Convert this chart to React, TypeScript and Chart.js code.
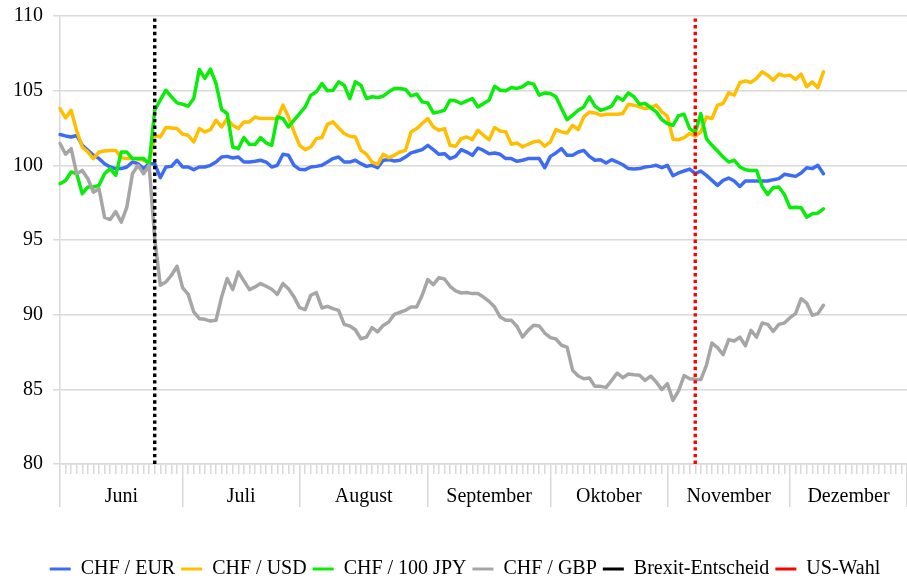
import React, { useEffect, useRef } from 'react';
import { Chart, registerables } from 'chart.js';

Chart.register(...registerables);

// ---- categories: business days June–December 2016 ----
const MONTH_NAMES = ['Juni', 'Juli', 'August', 'September', 'Oktober', 'November', 'Dezember'];
const MONTH_NUMBERS = ['06', '07', '08', '09', '10', '11', '12'];
const JUNE_DAYS = [1, 2, 3, 6, 7, 8, 9, 10, 13, 14, 15, 16, 17, 20, 21, 22, 23, 24, 27, 28, 29, 30];
const JULY_DAYS = [1, 4, 5, 6, 7, 8, 11, 12, 13, 14, 15, 18, 19, 20, 21, 22, 25, 26, 27, 28, 29];
const AUGUST_DAYS = [1, 2, 3, 4, 5, 8, 9, 10, 11, 12, 15, 16, 17, 18, 19, 22, 23, 24, 25, 26, 29, 30, 31];
const SEPTEMBER_DAYS = [1, 2, 5, 6, 7, 8, 9, 12, 13, 14, 15, 16, 19, 20, 21, 22, 23, 26, 27, 28, 29, 30];
const OCTOBER_DAYS = [3, 4, 5, 6, 7, 10, 11, 12, 13, 14, 17, 18, 19, 20, 21, 24, 25, 26, 27, 28, 31];
const NOVEMBER_DAYS = [1, 2, 3, 4, 7, 8, 9, 10, 11, 14, 15, 16, 17, 18, 21, 22, 23, 24, 25, 28, 29, 30];
const DECEMBER_DAYS = [1, 2, 5, 6, 7, 8, 9, 12, 13, 14, 15, 16, 19, 20, 21, 22, 23, 26, 27, 28, 29, 30];
const MONTH_DAYS = [JUNE_DAYS, JULY_DAYS, AUGUST_DAYS, SEPTEMBER_DAYS, OCTOBER_DAYS, NOVEMBER_DAYS, DECEMBER_DAYS];

const CATEGORIES: string[] = MONTH_DAYS.flatMap((days, m) =>
  days.map((d) => `${String(d).padStart(2, '0')}.${MONTH_NUMBERS[m]}.`)
);

// ---- events ----
const BREXIT_DATE = '24.06.';
const US_ELECTION_DATE = '08.11.';

// ---- series (index, start = 100) ----
const CHF_EUR = [
  102.06, 101.97, 101.9, 102.0, 101.34, 101.0, 100.67, 100.45, 100.11, 99.89,
  99.78, 99.78, 99.89, 100.22, 100.11, 99.78, 100.11, 100.11, 99.17, 99.89,
  99.93, 100.34, 99.89, 99.89, 99.71, 99.89, 99.89, 100.0, 100.22, 100.56,
  100.6, 100.49, 100.56, 100.22, 100.22, 100.27, 100.34, 100.22, 99.89, 100.0,
  100.74, 100.67, 100.0, 99.73, 99.71, 99.89, 99.93, 100.0, 100.22, 100.45,
  100.56, 100.22, 100.22, 100.34, 100.11, 99.93, 100.0, 99.84, 100.34, 100.38,
  100.29, 100.34, 100.56, 100.83, 100.94, 101.05, 101.34, 101.05, 100.74, 100.78,
  100.45, 100.6, 101.05, 100.89, 100.67, 101.16, 101.0, 100.78, 100.83, 100.74,
  100.45, 100.45, 100.27, 100.34, 100.45, 100.45, 100.45, 99.84, 100.6, 100.83,
  101.12, 100.67, 100.67, 100.89, 101.0, 100.6, 100.34, 100.38, 100.16, 100.38,
  100.22, 100.04, 99.78, 99.75, 99.78, 99.89, 99.93, 100.0, 99.84, 100.0,
  99.3, 99.49, 99.62, 99.75, 99.44, 99.62, 99.33, 98.99, 98.66, 98.99,
  99.15, 98.95, 98.59, 98.95, 98.95, 98.95, 98.95, 98.95, 99.04, 99.11,
  99.4, 99.33, 99.26, 99.49, 99.84, 99.78, 100.0, 99.44,
];

const CHF_USD = [
  103.8, 103.18, 103.69, 102.3, 101.23, 100.89, 100.45, 100.89, 100.96, 101.0,
  101.0, 100.51, 100.45, 100.45, 100.42, 100.34, 100.22, 102.01, 101.9, 102.53,
  102.5, 102.46, 102.08, 102.01, 101.57, 102.46, 102.24, 102.39, 103.02, 102.57,
  103.13, 102.68, 102.46, 102.91, 102.91, 103.24, 103.13, 103.13, 103.13, 103.1,
  104.03, 103.24, 102.24, 101.34, 101.05, 101.23, 101.79, 101.86, 102.75, 102.91,
  102.5, 102.13, 101.95, 101.9, 101.0, 100.74, 100.22, 100.07, 100.74, 100.51,
  100.67, 100.89, 101.0, 102.24, 102.46, 102.8, 103.13, 102.57, 102.35, 102.46,
  101.34, 101.28, 101.79, 101.9, 101.72, 102.35, 102.01, 101.72, 102.53, 102.3,
  102.24, 101.41, 101.5, 101.23, 101.41, 101.57, 101.63, 101.28, 101.57, 102.39,
  102.24, 102.17, 102.68, 102.39, 103.24, 103.56, 103.51, 103.36, 103.42, 103.42,
  103.42, 103.47, 104.09, 104.03, 103.91, 103.8, 103.87, 104.03, 103.58, 103.29,
  101.75, 101.72, 101.86, 102.13, 101.95, 102.24, 103.24, 103.13, 104.03, 104.14,
  104.85, 104.7, 105.53, 105.66, 105.55, 105.82, 106.26, 106.04, 105.7, 106.11,
  105.99, 106.04, 105.75, 106.11, 105.26, 105.59, 105.19, 106.26,
];

const CHF_100JPY = [
  98.77, 98.99, 99.55, 99.44, 98.1, 98.55, 98.55, 98.66, 99.44, 99.78,
  99.33, 100.89, 100.89, 100.45, 100.45, 100.45, 100.11, 103.69, 104.36, 105.03,
  104.59, 104.18, 104.09, 103.96, 104.47, 106.42, 105.82, 106.44, 105.48, 103.74,
  103.47, 101.23, 101.12, 101.86, 101.41, 101.39, 101.86, 101.5, 101.34, 103.24,
  103.13, 102.57, 103.02, 103.47, 103.91, 104.7, 104.92, 105.48, 104.99, 105.03,
  105.59, 105.37, 104.47, 105.59, 105.37, 104.47, 104.59, 104.54, 104.63, 104.92,
  105.15, 105.15, 105.08, 104.65, 104.77, 104.25, 104.18, 103.51, 103.58, 103.69,
  104.36, 104.32, 104.14, 104.32, 104.47, 103.91, 104.14, 104.36, 105.3, 105.03,
  104.99, 105.21, 105.15, 105.26, 105.53, 105.44, 104.7, 104.85, 104.81, 104.59,
  103.8, 103.06, 103.36, 103.69, 103.91, 104.59, 103.96, 103.69, 103.8, 103.96,
  104.59, 104.36, 104.85, 104.59, 104.09, 104.14, 103.87, 103.58, 103.06, 102.8,
  102.68, 103.33, 103.42, 102.46, 102.2, 103.47, 101.79, 101.34, 100.96, 100.56,
  100.22, 100.34, 99.89, 99.71, 99.66, 99.66, 98.59, 98.05, 98.5, 98.55,
  98.05, 97.16, 97.2, 97.16, 96.53, 96.76, 96.8, 97.09,
];

const CHF_GBP = [
  101.46, 100.74, 101.12, 99.44, 99.66, 99.1, 98.2, 98.43, 96.52, 96.37,
  96.9, 96.19, 97.2, 99.44, 100.0, 99.44, 100.0, 95.1, 91.97, 92.19,
  92.64, 93.24, 91.81, 91.36, 90.18, 89.73, 89.69, 89.57, 89.62, 91.19,
  92.42, 91.68, 92.86, 92.26, 91.68, 91.86, 92.08, 91.9, 91.7, 91.36,
  92.08, 91.74, 91.19, 90.47, 90.34, 91.3, 91.48, 90.45, 90.56, 90.4,
  90.29, 89.35, 89.24, 88.99, 88.39, 88.5, 89.13, 88.84, 89.28, 89.51,
  90.02, 90.16, 90.29, 90.51, 90.51, 91.3, 92.35, 92.01, 92.48, 92.39,
  91.9, 91.59, 91.45, 91.48, 91.41, 91.41, 91.18, 90.89, 90.51, 89.84,
  89.62, 89.62, 89.22, 88.5, 88.95, 89.29, 89.24, 88.77, 88.46, 88.37,
  87.95, 87.83, 86.27, 85.89, 85.71, 85.76, 85.2, 85.2, 85.13, 85.6,
  86.09, 85.78, 86.03, 85.98, 85.94, 85.6, 85.89, 85.49, 84.98, 85.38,
  84.26, 84.89, 85.92, 85.71, 85.67, 85.65, 86.61, 88.1, 87.79, 87.32,
  88.33, 88.24, 88.5, 87.92, 88.95, 88.5, 89.44, 89.35, 88.88, 89.35,
  89.44, 89.8, 90.07, 91.07, 90.78, 89.96, 90.07, 90.63,
];

// ---- axis ----
const Y_MIN = 80;
const Y_MAX = 110;
const Y_STEP = 5;

const FONT = { family: "'Liberation Serif', 'Times New Roman', serif", size: 20 };
const GRID_COLOR = '#d9d9d9';

export default function App() {
  const canvasRef = useRef<HTMLCanvasElement>(null);

  useEffect(() => {
    const canvas = canvasRef.current;
    if (!canvas) return;

    // month boundaries (category indices) and label positions
    const starts: number[] = [];
    let acc = 0;
    MONTH_DAYS.forEach((days) => {
      starts.push(acc);
      acc += days.length;
    });
    const lastIndex = CATEGORIES.length - 1;
    const boundaries = [...starts, lastIndex];
    const mids = starts.map((s, k) => (s + boundaries[k + 1]) / 2);

    const series = [
      { label: 'CHF / EUR', data: CHF_EUR, color: '#3d6cf3' },
      { label: 'CHF / USD', data: CHF_USD, color: '#ffbf00' },
      { label: 'CHF / 100 JPY', data: CHF_100JPY, color: '#0aec0a' },
      { label: 'CHF / GBP', data: CHF_GBP, color: '#a6a6a6' },
    ];
    const events = [
      { label: 'Brexit-Entscheid', date: BREXIT_DATE, color: '#000000' },
      { label: 'US-Wahl', date: US_ELECTION_DATE, color: '#ff0000' },
    ];

    const chart = new Chart(canvas, {
      type: 'line',
      data: {
        labels: CATEGORIES,
        datasets: [
          ...series.map((s, k) => ({
            label: s.label,
            data: s.data,
            borderColor: s.color,
            backgroundColor: s.color,
            borderWidth: 3.5,
            pointRadius: 0,
            pointHoverRadius: 0,
            tension: 0,
            fill: false,
            borderJoinStyle: 'round' as const,
            borderCapStyle: 'round' as const,
            order: 10 - k,
          })),
          ...events.map((e, k) => ({
            label: e.label,
            data: [
              { x: e.date, y: Y_MIN },
              { x: e.date, y: Y_MAX },
            ],
            borderColor: e.color,
            backgroundColor: e.color,
            borderWidth: 3.4,
            borderDash: [3.4, 3.3],
            borderCapStyle: 'butt' as const,
            pointRadius: 0,
            pointHoverRadius: 0,
            fill: false,
            order: 2 - k,
          })),
        ],
      },
      options: {
        responsive: false,
        animation: false,
        devicePixelRatio: 1,
        events: [],
        layout: { padding: { top: 16, left: 23, right: 0, bottom: -10 } },
        plugins: {
          tooltip: { enabled: false },
          legend: {
            position: 'bottom',
            labels: {
              boxWidth: 21,
              boxHeight: 3,
              padding: 6,
              color: '#000',
              font: FONT,
              generateLabels: (c: any) =>
                c.data.datasets.map((ds: any, i: number) => ({
                  text: ds.label,
                  fillStyle: ds.borderColor,
                  strokeStyle: ds.borderColor,
                  lineWidth: 0,
                  hidden: false,
                  datasetIndex: i,
                  fontColor: '#000',
                })),
            },
          },
        },
        scales: {
          x: {
            type: 'category',
            offset: false,
            weight: 0,
            grid: { drawOnChartArea: false, tickLength: 10, color: GRID_COLOR, lineWidth: 1.5 },
            border: { color: GRID_COLOR, width: 1.5 },
            ticks: { display: false, autoSkip: false },
          },
          months: {
            type: 'linear',
            position: 'bottom',
            min: 0,
            max: lastIndex,
            weight: 1,
            afterBuildTicks: (scale: any) => {
              scale.ticks = [...boundaries, ...mids].sort((a, b) => a - b).map((v) => ({ value: v }));
            },
            afterFit: (scale: any) => {
              scale.height += 66;
              scale.paddingLeft = 0;
              scale.paddingRight = 0;
            },
            grid: {
              drawOnChartArea: false,
              tickLength: 33,
              lineWidth: 1.5,
              color: (ctx: any) =>
                ctx.tick && boundaries.includes(ctx.tick.value) ? GRID_COLOR : 'rgba(0,0,0,0)',
            },
            border: { display: false },
            ticks: {
              autoSkip: false,
              maxRotation: 0,
              minRotation: 0,
              padding: -22,
              color: '#000',
              font: FONT,
              callback: (v: any) => {
                const k = mids.indexOf(Number(v));
                return k >= 0 ? MONTH_NAMES[k] : '';
              },
            },
          },
          y: {
            min: Y_MIN,
            max: Y_MAX,
            afterFit: (scale: any) => {
              scale.width = 37;
              scale.paddingTop = 0;
              scale.paddingBottom = 0;
            },
            ticks: {
              stepSize: Y_STEP,
              color: '#000',
              font: FONT,
              mirror: true,
              crossAlign: 'far',
              padding: -47,
            },
            grid: { color: GRID_COLOR, lineWidth: 1.5, tickLength: 7 },
            border: { color: GRID_COLOR, width: 1.5 },
          },
        },
      } as any,
    });

    return () => chart.destroy();
  }, []);

  return (
    <div style={{ position: 'fixed', left: 0, top: 0, width: 907, height: 579, background: '#fff' }}>
      <canvas ref={canvasRef} width={907} height={579} style={{ display: 'block' }} />
    </div>
  );
}
